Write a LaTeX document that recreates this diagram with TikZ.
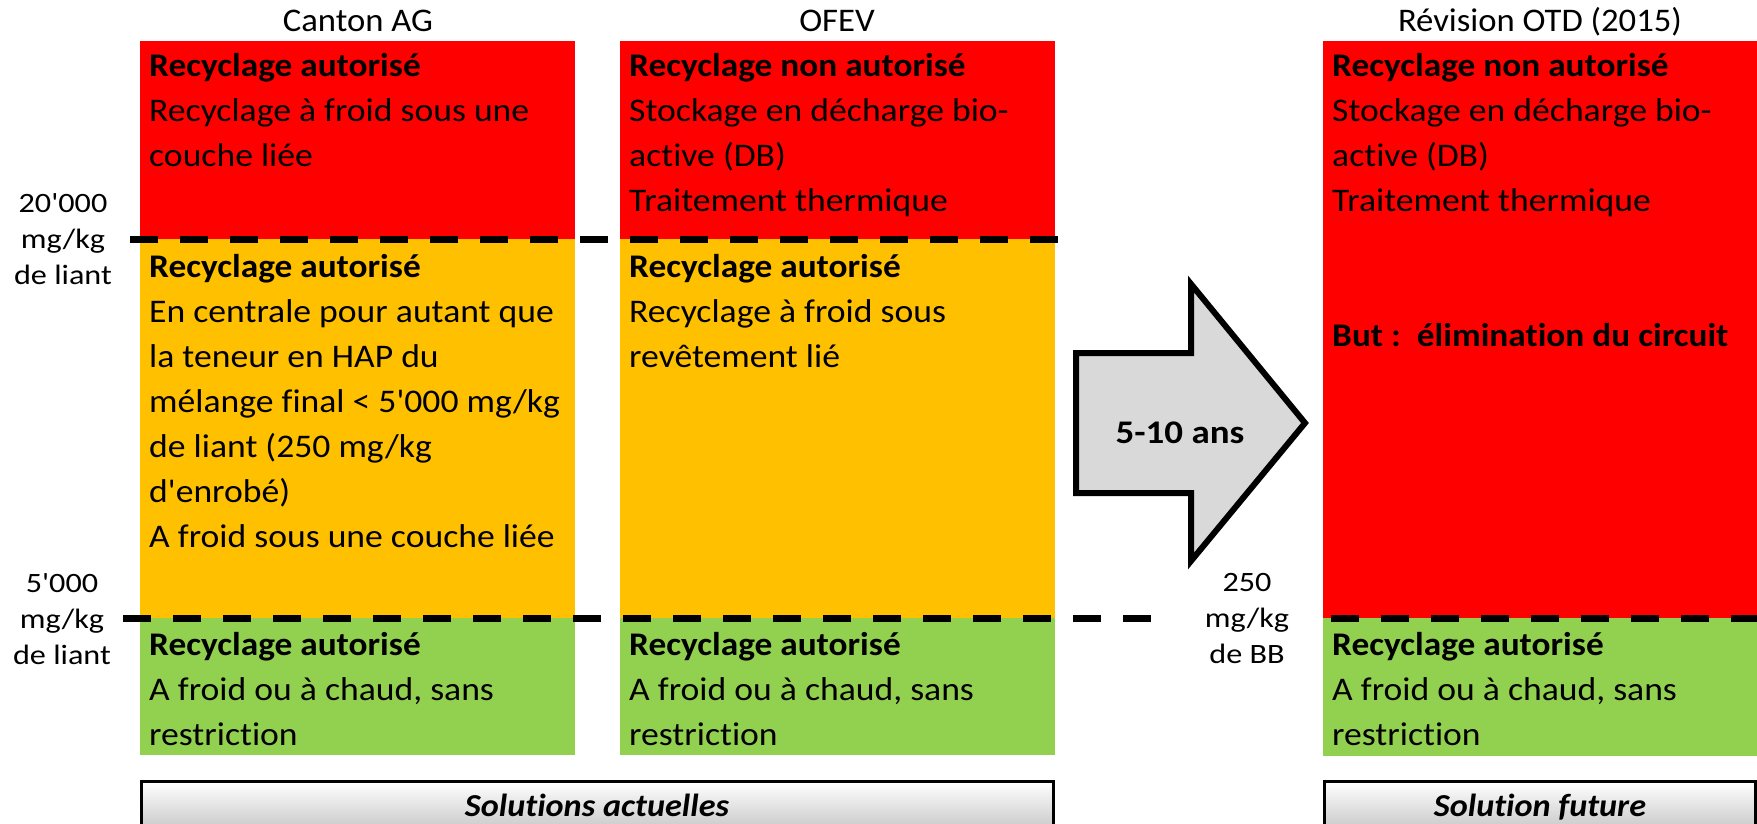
\documentclass[tikz,border=0pt]{standalone}
\usepackage{fontspec}
\setmainfont{Carlito}[Ligatures={TeXOff,CommonOff}]
\newfontfamily\bodyR{Carlito}[Ligatures={TeXOff,CommonOff}, FakeStretch=1.08]
\newfontfamily\bodyB{Carlito}[Ligatures={TeXOff,CommonOff}, FakeStretch=1.07]
\newfontfamily\arrB{Carlito}[Ligatures={TeXOff,CommonOff}, FakeStretch=1.12]
\newfontfamily\lblR{Carlito}[Ligatures={TeXOff,CommonOff}, FakeStretch=1.15]
\newfontfamily\headR{Carlito}[Ligatures={TeXOff,CommonOff}, FakeStretch=1.05]
\newcommand\B[1]{{\bodyB\bfseries #1}}
\definecolor{cRed}{RGB}{255,0,0}
\definecolor{cYel}{RGB}{255,192,0}
\definecolor{cGrn}{RGB}{146,208,80}
\definecolor{cArr}{RGB}{217,217,217}
\definecolor{cBot}{RGB}{175,175,175}
\newcommand\blk[1]{\begin{tabular}[t]{@{}l@{}}#1\end{tabular}}
\newcommand\cblk[1]{\begin{tabular}[t]{@{}c@{}}#1\end{tabular}}
\begin{document}
\begin{tikzpicture}[x=1pt,y=-1pt,
  band/.style={draw=none, inner sep=0pt, outer sep=0pt, anchor=north west, minimum width=435pt},
  txt/.style={anchor=base west, inner sep=0pt, font=\fontsize{33}{45}\selectfont\bodyR},
  lbl/.style={anchor=base, inner sep=0pt, font=\fontsize{28}{36}\selectfont\lblR},
  head/.style={anchor=base, inner sep=0pt, font=\fontsize{33}{37}\selectfont\headR},
  thr/.style={line width=7pt, dash pattern=on 28pt off 22pt},
  footbox/.style={draw, line width=3pt, top color=white, bottom color=cBot, anchor=north west, inner sep=0pt, outer sep=0pt, minimum height=70pt},
  foottxt/.style={anchor=base, inner sep=0pt, font=\fontsize{32}{38}\selectfont\bodyB\bfseries\itshape},
  bigarrow/.style={line width=6pt, fill=cArr, draw=black, line join=miter}
]
\useasboundingbox (0,0) rectangle (1757,824);
\clip (0,0) rectangle (1757,824);

% headers
\node[head] (h1) at (358,32) {Canton AG};
\node[head] (h2) at (837,32) {OFEV};
\node[head] (h3) at (1540,32) {Révision OTD (2015)};

% column 1
\node[band, fill=cRed, minimum height=198pt] (c1r) at (140,41) {};
\node[band, fill=cYel, minimum height=379pt] (c1y) at (140,239) {};
\node[band, fill=cGrn, minimum height=137pt] (c1g) at (140,618) {};
% column 2
\node[band, fill=cRed, minimum height=198pt] (c2r) at (620,41) {};
\node[band, fill=cYel, minimum height=379pt] (c2y) at (620,239) {};
\node[band, fill=cGrn, minimum height=137pt] (c2g) at (620,618) {};
% column 3
\node[band, fill=cRed, minimum height=577pt] (c3r) at (1323,41) {};
\node[band, fill=cGrn, minimum height=138pt] (c3g) at (1323,618) {};

% texts column 1
\node[txt] (t1r) at (149,77) {\blk{\B{Recyclage autorisé}\\Recyclage à froid sous une\\couche liée}};
\node[txt] (t1y) at (149,277) {\blk{\B{Recyclage autorisé}\\En centrale pour autant que\\la teneur en HAP du\\mélange final < 5'000 mg/kg\\de liant (250 mg/kg\\d'enrobé)\\A froid sous une couche liée}};
\node[txt] (t1g) at (149,655) {\blk{\B{Recyclage autorisé}\\A froid ou à chaud, sans\\restriction}};
% texts column 2
\node[txt] (t2r) at (629,77) {\blk{\B{Recyclage non autorisé}\\Stockage en décharge bio-\\active (DB)\\Traitement thermique}};
\node[txt] (t2y) at (629,277) {\blk{\B{Recyclage autorisé}\\Recyclage à froid sous\\revêtement lié}};
\node[txt] (t2g) at (629,655) {\blk{\B{Recyclage autorisé}\\A froid ou à chaud, sans\\restriction}};
% texts column 3
\node[txt] (t3r) at (1332,77) {\blk{\B{Recyclage non autorisé}\\Stockage en décharge bio-\\active (DB)\\Traitement thermique\\ \\ \\\B{But~:\ \ élimination du circuit}}};
\node[txt] (t3g) at (1332,655) {\blk{\B{Recyclage autorisé}\\A froid ou à chaud, sans\\restriction}};

% thresholds
\coordinate (d1a) at (130,239);
\coordinate (d1b) at (1064,239);
\coordinate (d2a) at (123,618);
\coordinate (d2b) at (1157,618);
\coordinate (d3a) at (1331,618);
\coordinate (d3b) at (1757,618);
\draw[thr] (d1a) -- (d1b);
\draw[thr] (d2a) -- (d2b);
\draw[thr] (d3a) -- (d3b);

% threshold labels
\node[lbl] (l1) at (63,212) {\cblk{20'000\\mg/kg\\de liant}};
\node[lbl] (l2) at (62,592) {\cblk{5'000\\mg/kg\\de liant}};
\node[lbl] (l3) at (1247,591) {\cblk{250\\mg/kg\\de BB}};

% big arrow
\draw[bigarrow] (1076,353) -- (1191,353) -- (1191,284) -- (1305,423) -- (1191,561) -- (1191,493) -- (1076,493) -- cycle;
\node[anchor=base, inner sep=0pt, font=\fontsize{33}{38}\selectfont\arrB\bfseries] (ans) at (1180,443) {5-10 ans};

% footers
\node[footbox, minimum width=912pt] (fa) at (141.5,781.5) {};
\node[footbox, minimum width=431pt] (ff) at (1324.5,781.5) {};
\node[foottxt] (fat) at (597,816) {Solutions actuelles};
\node[foottxt] (fft) at (1540,816) {Solution future};
\end{tikzpicture}
\end{document}
